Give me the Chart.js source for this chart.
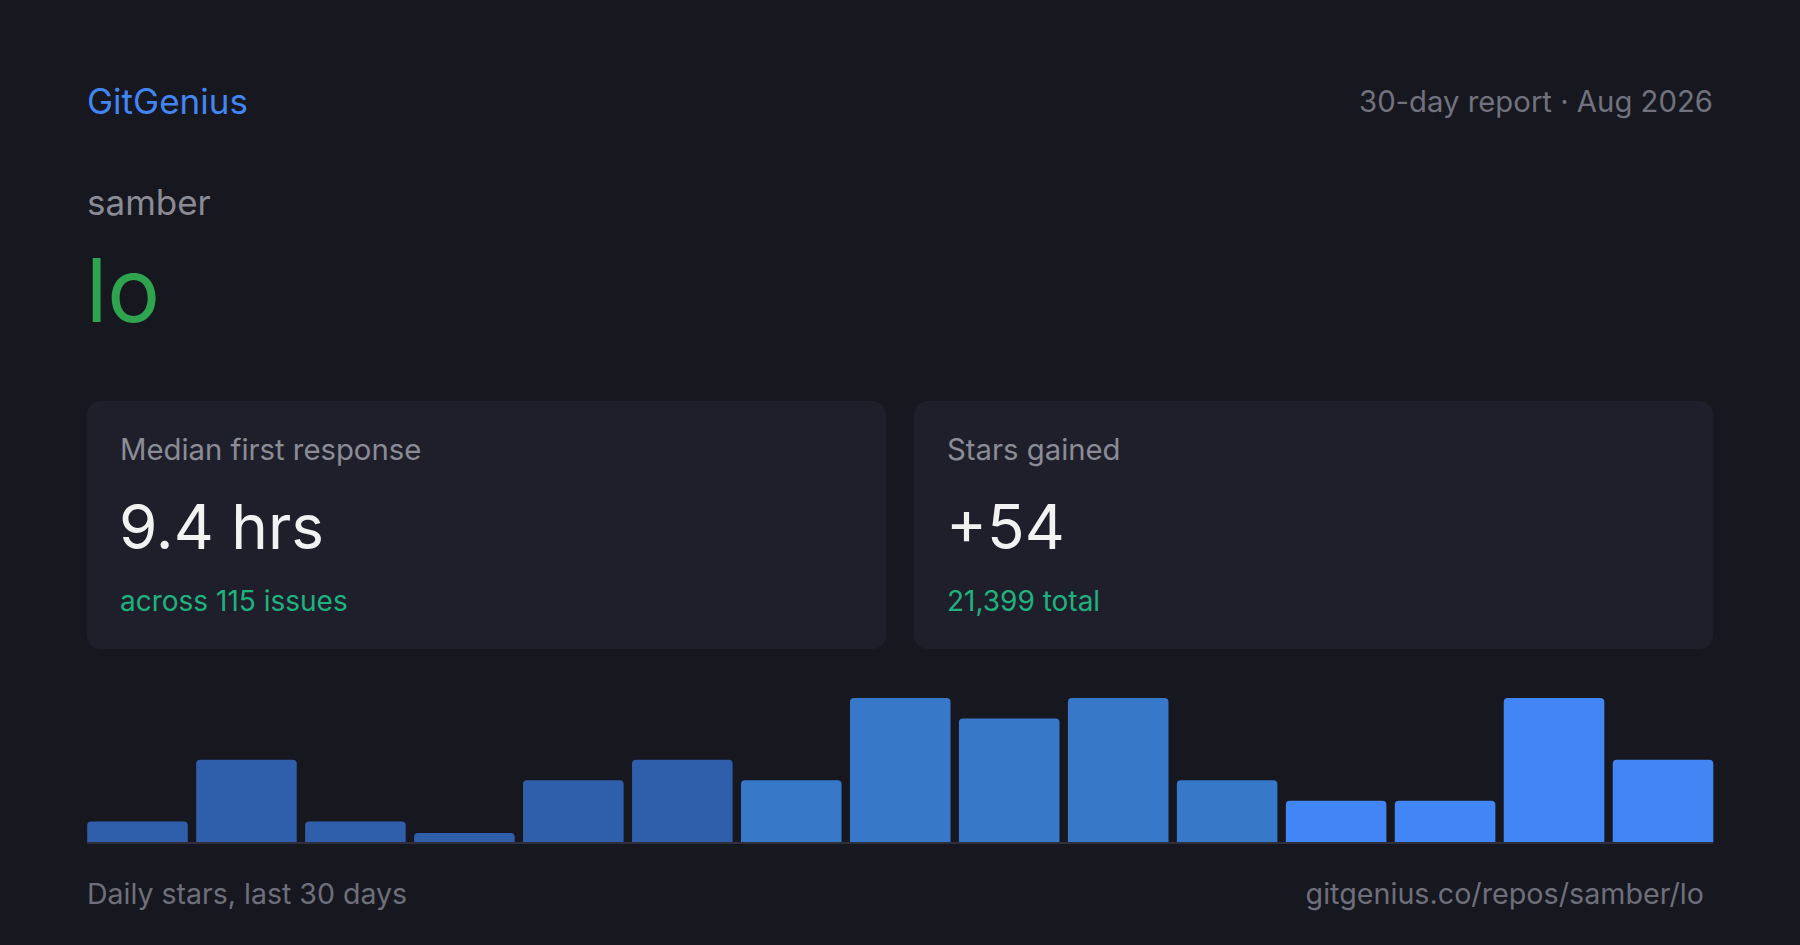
<!DOCTYPE html>
<html>
<head>
<meta charset="utf-8">
<script src="https://cdn.jsdelivr.net/npm/chart.js@4.4.1/dist/chart.umd.min.js"></script>
<style>
  html, body { margin: 0; padding: 0; }
  body {
    width: 1800px; height: 945px; position: relative; overflow: hidden;
    background: #17171f; font-family: Inter, "Noto Sans", sans-serif;
  }
  .abs { position: absolute; line-height: 1; white-space: nowrap; }
  .card {
    position: absolute; top: 401px; width: 799px; height: 248px;
    background: #1f1f2b; border-radius: 14px;
  }
  .card .lbl { position: absolute; left: 33px; top: 34px; font-size: 29.3px; line-height: 1; color: #8b8c96; white-space: nowrap; }
  .card .val { position: absolute; left: 32px; top: 95.4px; font-size: 62px; line-height: 1; color: #f2f2f2; white-space: nowrap; }
  .card .sub { position: absolute; left: 33px; top: 186px; font-size: 28px; line-height: 1; color: #20b27e; white-space: nowrap; }
  #chartBox { position: absolute; left: 82.75px; top: 698px; width: 1634.5px; height: 144px; }
  #baseline { position: absolute; left: 87px; top: 842px; width: 1626px; height: 2px; background: #2f2f3b; }
</style>
</head>
<body>
  <div class="abs" style="left:87px; top:84px; font-size:35px; color:#4285f4;">GitGenius</div>
  <div class="abs" style="right:87px; top:87px; font-size:29.3px; color:#71727d;">30-day report · Aug 2026</div>
  <div class="abs" style="left:87px; top:185px; font-size:35px; color:#8b8b95;">samber</div>
  <div class="abs" style="left:86px; top:246px; font-size:88px; color:#2ea44f;">lo</div>

  <div class="card" style="left:87px;">
    <div class="lbl">Median first response</div>
    <div class="val">9.4 hrs</div>
    <div class="sub">across 115 issues</div>
  </div>
  <div class="card" style="left:914px;">
    <div class="lbl">Stars gained</div>
    <div class="val">+54</div>
    <div class="sub">21,399 total</div>
  </div>

  <div id="chartBox"><canvas id="starsChart"></canvas></div>
  <div id="baseline"></div>

  <div class="abs" style="left:87px; top:879.6px; font-size:28.5px; color:#6e6f7a;">Daily stars, last 30 days</div>
  <div class="abs" style="right:96px; top:879.6px; font-size:28.7px; color:#6e6f7a;">gitgenius.co/repos/samber/lo</div>

<script>
// two-day buckets over the last 30 days
const periods = ['Jul 3', 'Jul 5', 'Jul 7', 'Jul 9', 'Jul 11', 'Jul 13', 'Jul 15', 'Jul 17',
                 'Jul 19', 'Jul 21', 'Jul 23', 'Jul 25', 'Jul 27', 'Jul 29', 'Jul 31'];
const stars = [1, 4, 1, 0, 3, 4, 3, 7, 6, 7, 3, 2, 2, 7, 4];

// bar shade per bucket (older -> newer)
const barColors = [
    '#2f5faa', '#2f5faa', '#2f5faa', '#2f5faa', '#2f5faa', '#2f5faa',
    '#3778c9', '#3778c9', '#3778c9', '#3778c9', '#3778c9',
    '#4285f4', '#4285f4', '#4285f4', '#4285f4'
];

const ctx = document.getElementById('starsChart').getContext('2d');

new Chart(ctx, {
    type: 'bar',
    data: {
        labels: periods,
        datasets: [{
            label: 'Stars',
            data: stars,
            backgroundColor: barColors,
            borderRadius: { topLeft: 4, topRight: 4 },
            borderSkipped: 'bottom',
            minBarLength: 9,
            categoryPercentage: 1,
            barPercentage: 0.923
        }]
    },
    options: {
        responsive: true,
        maintainAspectRatio: false,
        animation: false,
        layout: { padding: 0 },
        plugins: {
            legend: { display: false },
            tooltip: { enabled: false }
        },
        scales: {
            x: { display: false },
            y: { display: false, min: 0, max: 7 }
        }
    }
});
</script>
</body>
</html>
